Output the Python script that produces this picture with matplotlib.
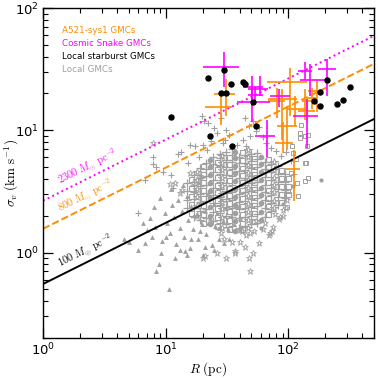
import numpy as np
import matplotlib
matplotlib.use('Agg')
import matplotlib.pyplot as plt

plt.rcParams['mathtext.fontset'] = 'cm'
plt.rcParams['font.family'] = 'DejaVu Sans'

## A521-sys1 GMCs (orange crosses): centre, then low / high ends of the bars
a521_R = [31.0, 28.2, 103, 88.2, 96.8, 113, 137, 90.9, 111, 141, 170, 80.3, 155]
a521_s = [19.9, 15.4, 24.9, 17.9, 10.8, 14.8, 17.3, 7.93, 4.85, 14.3, 20.9, 17.3, 18.5]
a521_Rlo = [24.8, 20.9, 66.6, 68.2, 80.3, 96.8, 129, 77.8, 93.8, 120, 145, 68.2, 141]
a521_Rhi = [36.7, 34.7, 141, 117, 117, 141, 165, 109, 124, 165, 191, 93.8, 170]
a521_slo = [13.0, 11.1, 13.2, 8.39, 6.95, 10.8, 12.2, 6.56, 2.65, 11.9, 14.0, 12.5, 14.8]
a521_shi = [26.2, 20.3, 32.6, 21.8, 15.7, 19.0, 21.8, 11.6, 6.95, 17.9, 26.0, 22.0, 22.0]

## Cosmic Snake GMCs (magenta crosses)
snake_R = [29.9, 50.2, 50.5, 58.7, 83.8, 141, 66.6, 207, 150, 137, 53.4]
snake_s = [32.8, 22.4, 17.0, 21.8, 19.0, 13.0, 9.05, 31.9, 25.6, 30.5, 19.6]
snake_Rlo = [20.1, 42.7, 37.9, 46.9, 70.8, 109, 53.4, 174, 124, 120, 46.9]
snake_Rhi = [39.6, 62.1, 70.8, 68.2, 103, 174, 77.8, 244, 218, 156, 62.1]
snake_slo = [22.8, 15.7, 11.6, 18.9, 15.6, 7.21, 6.08, 19.0, 19.0, 26.0, 17.0]
snake_shi = [43.3, 27.7, 21.6, 27.7, 21.6, 17.9, 12.2, 38.0, 34.6, 35.9, 22.4]

## Local starburst GMCs (black dots)
sb_R = [11.0, 22.0, 29.9, 33.9, 43.0, 44.4, 28.0, 31.0, 51.8, 23.0, 34.9, 55.0,
        207, 181, 162, 183, 250, 280, 318]
sb_s = [12.9, 26.9, 31.0, 24.0, 25.0, 24.0, 20.0, 20.0, 17.0, 9.05, 7.4, 10.8,
        25.6, 20.5, 17.3, 15.7, 16.5, 17.6, 22.5]

## Local GMCs (grey), outer points
tri_pts = [(4.6, 1.29), (5.0, 1.21), (6.0, 1.05), (6.8, 1.2), (7.0, 1.52), (7.4, 1.9),
           (7.8, 1.33), (8.2, 1.62), (8.4, 0.71), (8.9, 0.80), (9.1, 1.0), (9.4, 1.25),
           (9.8, 2.1), (10.2, 1.75), (10.6, 0.50), (10.9, 1.45), (11.3, 2.45), (11.8, 1.95),
           (12.2, 1.17), (12.6, 2.7), (13.1, 1.6), (13.6, 2.2), (14.0, 1.35), (14.4, 1.02),
           (14.9, 2.9), (15.3, 1.85), (15.8, 1.09), (16.2, 2.4), (16.8, 1.55), (17.3, 3.2),
           (17.9, 2.05), (18.5, 1.28), (19.0, 2.6), (19.6, 1.72), (20.3, 0.95), (20.9, 2.2),
           (21.5, 1.42), (22.3, 3.0), (23.0, 1.9), (23.8, 1.15), (24.6, 2.5), (25.4, 1.65),
           (26.3, 2.1), (27.2, 1.3), (28.4, 2.75), (29.6, 1.8), (31.0, 2.3), (32.5, 1.55),
           (34.0, 2.0), (36.0, 1.7), (38.0, 2.4), (11.0, 3.3), (13.8, 3.6), (9.0, 2.8),
           (18.2, 3.8), (12.0, 0.9), (15.0, 0.95), (13.0, 1.05), (21.0, 1.1), (25.0, 1.05),
           (30.0, 1.2), (8.0, 2.35), (6.5, 1.75), (10.0, 1.35), (16.0, 1.3), (19.0, 1.5),
           (22.0, 1.75), (27.0, 1.6), (33.0, 1.3), (40.0, 1.9)]
star_pts = [(7.9, 7.9), (10.8, 3.66), (13.0, 3.07), (15.8, 4.5), (11.9, 3.7), (13.5, 3.27),
            (16.8, 3.7), (19.0, 4.2), (20.0, 0.9), (20.9, 0.93), (26.0, 1.0), (31.0, 0.9),
            (36.7, 1.02), (37.0, 1.0), (48.0, 0.9), (48.6, 0.70), (52.0, 1.0), (35.0, 1.21),
            (40.0, 1.21), (41.6, 1.49), (45.0, 1.40), (40.3, 1.54), (48.5, 1.44), (53.0, 1.49),
            (69.5, 1.40), (70.8, 1.44), (74.0, 1.50), (75.0, 1.63), (84.0, 1.88), (85.0, 1.97),
            (90.0, 2.0), (90.6, 2.24), (96.0, 2.31), (96.8, 2.7), (58.0, 1.2), (62.0, 1.55),
            (65.0, 1.75), (55.0, 1.8), (78.0, 2.05), (30.0, 1.3), (28.0, 1.45), (44.0, 1.1)]
plus_pts = [(6.0, 2.1), (6.8, 3.9), (7.9, 5.3), (7.9, 6.0), (8.4, 5.0), (9.5, 4.6),
            (11.0, 4.3), (11.5, 3.4), (12.6, 6.4), (13.3, 6.6), (15.3, 5.4), (15.8, 7.6),
            (17.3, 7.4), (18.8, 6.1), (20.2, 7.6), (21.6, 6.95), (23.5, 8.2), (26.0, 9.5),
            (29.5, 7.9), (30.5, 8.4), (33.0, 9.2), (37.9, 7.6), (42.8, 8.4), (45.6, 7.4),
            (48.7, 8.9), (19.7, 13.0), (20.5, 12.0), (22.0, 11.4), (25.0, 10.5), (28.0, 12.5),
            (31.0, 10.0), (44.0, 12.6), (48.0, 10.8), (52.0, 11.8), (55.0, 9.8), (58.0, 10.6),
            (62.0, 8.8), (66.0, 7.8), (72.0, 7.2), (80.0, 6.8), (88.0, 6.2), (95.0, 6.6),
            (105.0, 5.6), (112.0, 4.4)]
sq_pts = [(136, 3.87), (140, 5.4), (145, 9.1), (124, 8.7), (117, 3.7), (96.8, 2.38),
          (99.8, 3.16), (124, 9.5), (137, 8.9), (141, 7.4), (137, 5.4), (144, 4.06),
          (128, 11.1), (110, 6.5), (105, 4.5), (115, 5.8), (120, 2.9), (108, 7.5)]
dot_pts = [(186, 3.95), (110, 3.5), (60, 1.6), (90, 2.5)]

## Local GMCs, dense core: (R, list of sigma at that R)
core_plus = [
    (15, [2.3, 2.7, 3.2, 3.7]),
    (17, [1.95, 2.3, 2.75, 3.1, 3.6, 4.3]),
    (19, [1.85, 2.2, 2.6, 3.0, 3.5, 4.1, 4.9]),
    (21.5, [1.9, 2.25, 2.65, 3.05, 3.55, 4.2, 4.8, 5.4]),
    (24.5, [1.8, 2.15, 2.55, 2.95, 3.4, 3.95, 4.6, 5.3, 6.0]),
    (27.5, [1.75, 2.1, 2.45, 2.85, 3.3, 3.8, 4.4, 5.1, 5.9, 6.4]),
    (31, [1.7, 2.0, 2.35, 2.75, 3.2, 3.7, 4.3, 5.0, 5.7, 6.6]),
    (35, [1.65, 1.95, 2.3, 2.7, 3.15, 3.6, 4.2, 4.8, 5.5, 6.3, 7.0]),
    (39.5, [1.6, 1.9, 2.25, 2.6, 3.0, 3.5, 4.05, 4.65, 5.35, 6.1]),
    (44.5, [1.65, 1.95, 2.3, 2.65, 3.1, 3.55, 4.1, 4.75, 5.45, 6.3]),
    (50, [1.7, 2.0, 2.35, 2.75, 3.2, 3.7, 4.25, 4.9, 5.6, 6.4]),
    (56, [1.75, 2.05, 2.4, 2.8, 3.25, 3.75, 4.3, 5.0, 5.8, 6.5]),
    (64, [1.95, 2.3, 2.7, 3.1, 3.6, 4.15, 4.8, 5.5]),
    (72, [2.2, 2.55, 2.95, 3.4, 3.95, 4.55, 5.3]),
    (82, [2.45, 2.85, 3.3, 3.8, 4.4, 5.1]),
    (94, [2.8, 3.25, 3.75, 4.35]),
]
core_square = [
    (16, [2.1, 2.5, 2.9, 3.4, 4.0]),
    (20, [1.75, 2.05, 2.45, 2.8, 3.25, 3.8, 4.4, 5.1]),
    (26, [1.65, 1.95, 2.3, 2.7, 3.1, 3.6, 4.15, 4.8, 5.5]),
    (33, [1.55, 1.85, 2.2, 2.55, 2.95, 3.4, 3.95, 4.55, 5.25, 6.0]),
    (42, [1.55, 1.75, 2.05, 2.4, 2.8, 3.25, 3.75, 4.3, 4.95, 5.7, 6.6]),
    (53, [1.8, 2.1, 2.45, 2.85, 3.3, 3.8, 4.4, 5.1, 5.9]),
    (68, [2.05, 2.4, 2.8, 3.25, 3.75, 4.35, 5.0, 5.8]),
    (88, [2.6, 3.0, 3.5, 4.05, 4.7]),
    (100, [3.0, 3.5, 4.05]),
]
core_star = [
    (18, [2.0, 2.4, 2.85, 3.3, 3.9, 4.6]),
    (29, [1.6, 1.9, 2.25, 2.6, 3.0, 3.5, 4.05, 4.7, 5.4, 6.2]),
    (47, [1.6, 1.85, 2.15, 2.5, 2.9, 3.35, 3.9, 4.5, 5.2, 6.0, 6.9]),
    (77, [2.3, 2.65, 3.1, 3.55, 4.1, 4.75, 5.5]),
]
core_dot = [
    (23, [1.7, 2.0, 2.35, 2.8, 3.2, 3.7, 4.3, 5.0, 5.7]),
    (37, [1.5, 1.8, 2.1, 2.45, 2.85, 3.3, 3.85, 4.45, 5.1, 5.9, 6.7]),
    (60, [1.85, 2.15, 2.55, 2.95, 3.4, 3.95, 4.55, 5.25, 6.1]),
]

## constant surface density lines (M_sun pc^-2)
surf_dens = [100, 800, 2300]
surf_colors = ['black', 'darkorange', '#ff00ff']
surf_styles = ['-', '--', ':']

grey = '#a0a0a0'
orange = 'darkorange'
magenta = '#ff00ff'


def unpack(pts):
    return [p[0] for p in pts], [p[1] for p in pts]


def unpack_cols(cols):
    R = [c[0] for c in cols for s in c[1]]
    s = [s for c in cols for s in c[1]]
    return R, s


fig = plt.figure(figsize=(3.78, 3.78), dpi=100)
ax = fig.add_axes([0.1138, 0.1058, 0.8757, 0.873])

## grey local GMCs
x, y = unpack_cols(core_plus)
ax.plot(x, y, '+', color=grey, ms=5.5, mew=0.9, zorder=1)
x, y = unpack(plus_pts)
ax.plot(x, y, '+', color=grey, ms=4.5, mew=0.8, zorder=1)
x, y = unpack_cols(core_square)
ax.plot(x, y, 's', mfc='none', mec=grey, ms=3.6, mew=0.8, zorder=1)
x, y = unpack(sq_pts)
ax.plot(x, y, 's', mfc='none', mec=grey, ms=3, mew=0.7, zorder=1)
x, y = unpack_cols(core_star)
ax.plot(x, y, '*', mfc='none', mec=grey, ms=5.5, mew=0.7, zorder=1)
x, y = unpack(star_pts)
ax.plot(x, y, '*', mfc='none', mec=grey, ms=4.5, mew=0.6, zorder=1)
x, y = unpack_cols(core_dot)
ax.plot(x, y, 'o', color=grey, ms=3, zorder=1)
x, y = unpack(dot_pts)
ax.plot(x, y, 'o', color=grey, ms=2, zorder=1)
x, y = unpack(tri_pts)
ax.plot(x, y, '^', color=grey, ms=3.5, mew=0, zorder=1)

## lines of constant surface density
R_line = np.logspace(0, np.log10(500), 50)
for sd, c, ls in zip(surf_dens, surf_colors, surf_styles):
    ax.plot(R_line, 0.0553 * np.sqrt(sd * R_line), color=c, ls=ls, lw=1.4, zorder=2)
    r0 = 1.42
    ax.text(r0, 0.0553 * np.sqrt(sd * r0) * 1.07,
            r'$%d\ M_{\odot}\ \mathrm{pc}^{-2}$' % sd, color=c, fontsize=7.5,
            rotation=26.4, rotation_mode='anchor', ha='left', va='bottom')

## A521 and Cosmic Snake error crosses
a521_R = np.array(a521_R); a521_s = np.array(a521_s)
ax.errorbar(a521_R, a521_s,
            xerr=[a521_R - np.array(a521_Rlo), np.array(a521_Rhi) - a521_R],
            yerr=[a521_s - np.array(a521_slo), np.array(a521_shi) - a521_s],
            fmt='none', ecolor=orange, elinewidth=1.2, capsize=0, zorder=3)
snake_R = np.array(snake_R); snake_s = np.array(snake_s)
ax.errorbar(snake_R, snake_s,
            xerr=[snake_R - np.array(snake_Rlo), np.array(snake_Rhi) - snake_R],
            yerr=[snake_s - np.array(snake_slo), np.array(snake_shi) - snake_s],
            fmt='none', ecolor=magenta, elinewidth=1.2, capsize=0, zorder=4)

## local starbursts
ax.plot(sb_R, sb_s, 'o', color='black', ms=3.6, zorder=5)

ax.set_xscale('log')
ax.set_yscale('log')
ax.set_xlim(1, 500)
ax.set_ylim(0.2, 100)
ax.set_xlabel(r'$R\ \mathrm{(pc)}$', fontsize=9.5, labelpad=1)
ax.set_ylabel(r'$\sigma_v\ \mathrm{(km\ s^{-1})}$', fontsize=9.5)
ax.yaxis.set_label_coords(-0.068, 0.5)
ax.tick_params(which='both', direction='in', top=True, right=True, labelsize=9.5)
ax.tick_params(which='major', length=7, width=0.9, pad=3)
ax.tick_params(which='minor', length=3.5, width=0.8)
for sp in ax.spines.values():
    sp.set_linewidth(1.0)

## legend as coloured text
labels = ['A521-sys1 GMCs', 'Cosmic Snake GMCs', 'Local starburst GMCs', 'Local GMCs']
label_colors = [orange, magenta, 'black', grey]
for i, (lab, c) in enumerate(zip(labels, label_colors)):
    ax.text(0.056, 0.931 - i * 0.039, lab, color=c, fontsize=6.3,
            transform=ax.transAxes, ha='left', va='center')

fig.savefig('out.png', dpi=100)
